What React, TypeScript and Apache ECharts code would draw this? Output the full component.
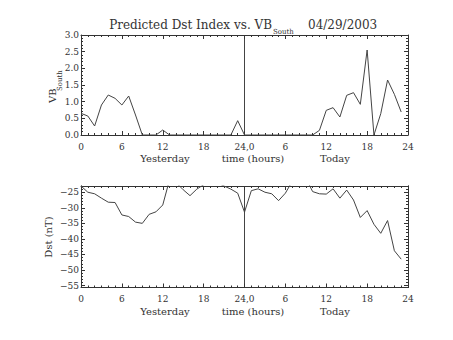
import React, { useEffect, useRef } from "react";
import * as echarts from "echarts";

const hours = [0,1,2,3,4,5,6,7,8,9,10,11,12,13,14,15,16,17,18,19,20,21,22,23,24,25,26,27,28,29,30,31,32,33,34,35,36,37,38,39,40,41,42,43,44,45,46,47];
const vbSouth = [0.65,0.57,0.27,0.90,1.20,1.10,0.90,1.17,0.60,0,0,0,0.15,0,0,0,0,0,0,0,0,0,0,0.43,0,0,0,0,0,0,0,0,0,0,0,0.14,0.74,0.82,0.54,1.19,1.27,0.92,2.55,0,0.64,1.65,1.22,0.69];
const dst = [-23.0,-25.0,-25.5,-26.9,-28.2,-28.3,-32.3,-32.8,-34.6,-35.0,-32.1,-31.3,-29.1,-21.0,-22.0,-24.2,-26.1,-24.0,-22.6,-21.5,-22.0,-23.0,-24.0,-25.3,-31.4,-24.5,-23.9,-25.0,-25.5,-27.7,-25.3,-21.5,-20.5,-20.4,-24.8,-25.5,-25.6,-23.9,-26.9,-24.3,-27.5,-33.1,-30.9,-35.3,-38.2,-34.1,-43.8,-46.5];
const xTickLabels = ["0","6","12","18","24,0","6","12","18","24"];
const vbTicks = [0,0.5,1.0,1.5,2.0,2.5,3.0];
const dstRange = [-55.6, -23];
const dstMajorTicks = [-55,-50,-45,-40,-35,-30,-25];
const dstMinorTicks = [-54,-53,-52,-51,-49,-48,-47,-46,-44,-43,-42,-41,-39,-38,-37,-36,-34,-33,-32,-31,-29,-28,-27,-26,-24,-23];
const dayLabels = ["Yesterday","time (hours)","Today"];
const dayBoundary = 24;

const FONT = "DejaVu Serif";
const AX = "#333";
const TXT = "#333";
const LINE = "#444";

export default function App() {
  const ref = useRef<HTMLDivElement>(null);
  useEffect(() => {
    if (!ref.current) return;
    const chart = echarts.init(ref.current, null, { renderer: "svg" });

    const xBase = (grid: number, pos: "bottom" | "top", labels: boolean) => ({
      type: "value",
      gridIndex: grid,
      position: pos,
      min: 0,
      max: 48,
      interval: 6,
      axisLine: { show: true, onZero: false, lineStyle: { color: AX, width: 1 } },
      axisTick: { show: true, inside: true, length: 4, lineStyle: { color: AX } },
      minorTick: { show: true, splitNumber: 6, length: 2, lineStyle: { color: AX } },
      splitLine: { show: false },
      minorSplitLine: { show: false },
      axisLabel: {
        show: labels,
        margin: 7,
        color: TXT,
        fontFamily: FONT,
        fontSize: 9,
        formatter: (v: number) => xTickLabels[Math.round(v / 6)] ?? "",
      },
    });

    // axis that only draws the day-boundary line (split lines at 0, 24, 48; 0 and 48 coincide with the frame)
    const dayAxis = (grid: number) => ({
      type: "value",
      gridIndex: grid,
      position: "bottom",
      min: 0,
      max: dayBoundary * 2,
      interval: dayBoundary,
      axisLine: { show: false, onZero: false },
      axisTick: { show: false },
      axisLabel: { show: false },
      splitLine: { show: true, lineStyle: { color: LINE, width: 1, type: "solid" } },
    });

    const vbAxis = (pos: "left" | "right", labels: boolean) => ({
      type: "value",
      gridIndex: 0,
      position: pos,
      min: vbTicks[0],
      max: vbTicks[vbTicks.length - 1],
      interval: 0.5,
      axisLine: { show: true, onZero: false, lineStyle: { color: AX, width: 1 } },
      axisTick: { show: true, inside: true, length: 4, lineStyle: { color: AX } },
      minorTick: { show: true, splitNumber: 5, length: 2, lineStyle: { color: AX } },
      splitLine: { show: false },
      axisLabel: {
        show: labels,
        margin: 2,
        color: TXT,
        fontFamily: FONT,
        fontSize: 9,
        formatter: (v: number) => v.toFixed(1),
      },
    });

    const dstAxis = (pos: "left" | "right", ticks: number[], len: number, labels: boolean) => ({
      type: "value",
      gridIndex: 1,
      position: pos,
      min: dstRange[0],
      max: dstRange[1],
      axisLine: { show: true, onZero: false, lineStyle: { color: AX, width: 1 } },
      axisTick: { show: true, inside: true, length: len, customValues: ticks, lineStyle: { color: AX } },
      splitLine: { show: false },
      axisLabel: {
        show: labels,
        customValues: dstMajorTicks,
        margin: 2,
        color: TXT,
        fontFamily: FONT,
        fontSize: 9,
        formatter: (v: number) => (v < 0 ? "\u2212" + Math.abs(v) : String(v)),
      },
    });

    const textStyle = (size: number) => ({ fontFamily: FONT, fontSize: size, fill: TXT });

    const graphics: any[] = [
      { type: "text", x: 272, y: 25, style: { ...textStyle(12), text: "Predicted Dst Index vs. VB", textAlign: "right", textVerticalAlign: "middle" } },
      { type: "text", x: 273, y: 32, style: { ...textStyle(7), text: "South", textAlign: "left", textVerticalAlign: "middle" } },
      { type: "text", x: 308, y: 25, style: { ...textStyle(12), text: "04/29/2003", textAlign: "left", textVerticalAlign: "middle" } },
      { type: "text", x: 52, y: 103, rotation: Math.PI / 2, style: { ...textStyle(10), text: "VB", textAlign: "left", textVerticalAlign: "middle" } },
      { type: "text", x: 60, y: 91, rotation: Math.PI / 2, style: { ...textStyle(7), text: "South", textAlign: "left", textVerticalAlign: "middle" } },
      { type: "text", x: 48, y: 237, rotation: Math.PI / 2, style: { ...textStyle(10), text: "Dst (nT)", textAlign: "center", textVerticalAlign: "middle" } },
    ];
    const dayX = [165, 253, 335];
    [158, 311].forEach((yy) => {
      dayLabels.forEach((t, i) => {
        graphics.push({ type: "text", x: dayX[i], y: yy, style: { ...textStyle(10), text: t, textAlign: "center", textVerticalAlign: "middle" } });
      });
    });

    const lineSeries = (xi: number, yi: number, data: number[][]) => ({
      type: "line",
      xAxisIndex: xi,
      yAxisIndex: yi,
      data,
      symbol: "none",
      silent: true,
      lineStyle: { color: LINE, width: 1 },
      clip: true,
    });

    chart.setOption({
      animation: false,
      backgroundColor: "#fff",
      grid: [
        { left: 81, top: 35, width: 327, height: 100 },
        { left: 81, top: 186, width: 327, height: 101.5 },
      ],
      xAxis: [
        xBase(0, "bottom", true),
        xBase(0, "top", false),
        xBase(1, "bottom", true),
        xBase(1, "top", false),
        dayAxis(0),
        dayAxis(1),
      ],
      yAxis: [
        vbAxis("left", true),
        vbAxis("right", false),
        dstAxis("left", dstMajorTicks, 4, true),
        dstAxis("left", dstMinorTicks, 2, false),
        dstAxis("right", dstMajorTicks, 4, false),
        dstAxis("right", dstMinorTicks, 2, false),
      ],
      series: [
        lineSeries(0, 0, vbSouth.map((v, i) => [hours[i], v])),
        lineSeries(2, 2, dst.map((v, i) => [hours[i], v])),
      ],
      graphic: graphics,
    });
    return () => chart.dispose();
  }, []);
  return <div ref={ref} style={{ position: "absolute", left: 0, top: 0, width: 453, height: 340 }} />;
}
